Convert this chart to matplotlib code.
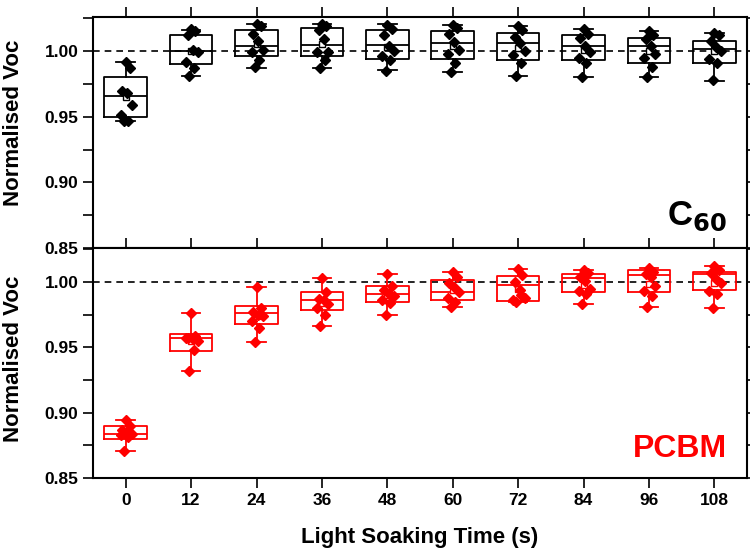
import numpy as np
import matplotlib.pyplot as plt
from matplotlib.ticker import MultipleLocator

plt.rcParams['font.family'] = ['Liberation Sans', 'DejaVu Sans']
plt.rcParams['font.weight'] = 'bold'

times = [0, 12, 24, 36, 48, 60, 72, 84, 96, 108]

# C60 - box stats (q1, median, q3, whisker low, whisker high)
c60_q1 = [0.950, 0.990, 0.996, 0.996, 0.994, 0.994, 0.993, 0.993, 0.991, 0.991]
c60_med = [0.966, 1.000, 1.004, 1.005, 1.005, 1.006, 1.006, 1.004, 1.004, 1.002]
c60_q3 = [0.980, 1.012, 1.016, 1.018, 1.016, 1.015, 1.0135, 1.012, 1.010, 1.008]
c60_lo = [0.947, 0.981, 0.987, 0.987, 0.9855, 0.984, 0.981, 0.980, 0.980, 0.977]
c60_hi = [0.992, 1.016, 1.021, 1.021, 1.021, 1.020, 1.019, 1.017, 1.015, 1.014]
c60_pts = [
    [0.992, 0.987, 0.970, 0.968, 0.959, 0.951, 0.947, 0.947],
    [1.017, 1.015, 1.012, 1.001, 0.999, 0.992, 0.987, 0.981],
    [1.021, 1.019, 1.013, 1.008, 1.001, 0.999, 0.993, 0.988],
    [1.021, 1.019, 1.016, 1.009, 0.999, 0.999, 0.993, 0.987],
    [1.020, 1.017, 1.012, 1.004, 1.000, 0.996, 0.993, 0.985],
    [1.020, 1.018, 1.013, 1.007, 1.001, 0.998, 0.991, 0.984],
    [1.019, 1.016, 1.011, 1.006, 1.000, 0.997, 0.991, 0.981],
    [1.017, 1.013, 1.010, 1.004, 0.999, 0.995, 0.991, 0.980],
    [1.015, 1.012, 1.009, 1.004, 0.998, 0.995, 0.988, 0.980],
    [1.014, 1.012, 1.008, 1.003, 1.000, 0.994, 0.991, 0.978],
]

# PCBM
pcbm_q1 = [0.880, 0.9475, 0.968, 0.9785, 0.985, 0.986, 0.9855, 0.992, 0.992, 0.994]
pcbm_med = [0.884, 0.957, 0.976, 0.986, 0.991, 0.992, 0.998, 1.003, 1.005, 1.006]
pcbm_q3 = [0.890, 0.960, 0.982, 0.992, 0.997, 1.0015, 1.0046, 1.006, 1.009, 1.0076]
pcbm_lo = [0.871, 0.932, 0.954, 0.966, 0.975, 0.981, 0.985, 0.983, 0.981, 0.980]
pcbm_hi = [0.894, 0.976, 0.996, 1.003, 1.006, 1.008, 1.010, 1.009, 1.011, 1.012]
pcbm_pts = [
    [0.894, 0.890, 0.887, 0.885, 0.884, 0.883, 0.881, 0.871],
    [0.976, 0.959, 0.957, 0.956, 0.955, 0.957, 0.948, 0.932],
    [0.996, 0.980, 0.977, 0.975, 0.974, 0.970, 0.965, 0.954],
    [1.003, 0.992, 0.987, 0.986, 0.983, 0.980, 0.975, 0.966],
    [1.006, 0.997, 0.994, 0.991, 0.989, 0.986, 0.984, 0.975],
    [1.008, 1.004, 0.999, 0.996, 0.992, 0.988, 0.985, 0.981],
    [1.010, 1.005, 1.000, 0.994, 0.988, 0.986, 0.990, 0.985],
    [1.009, 1.007, 1.004, 1.001, 0.995, 0.993, 0.991, 0.983],
    [1.011, 1.008, 1.006, 1.004, 0.997, 0.993, 0.989, 0.981],
    [1.012, 1.009, 1.007, 1.002, 0.999, 0.993, 0.991, 0.980],
]

jitter = [0.0, 0.8, -0.6, 0.3, 1.2, -0.9, 0.5, -0.3]


def draw_panel(ax, q1, med, q3, lo, hi, pts, color):
    stats = []
    for i in range(len(times)):
        stats.append(dict(q1=q1[i], med=med[i], q3=q3[i], whislo=lo[i],
                          whishi=hi[i], mean=np.mean(pts[i]), fliers=[]))
    lp = dict(color=color, linewidth=1.3)
    ax.bxp(stats, positions=times, widths=7.8, capwidths=3.4,
           showmeans=True, boxprops=lp, whiskerprops=lp, capprops=lp,
           medianprops=lp,
           meanprops=dict(marker='s', markerfacecolor='white',
                          markeredgecolor=color, markersize=4.5,
                          markeredgewidth=1.0),
           manage_ticks=False)
    for i, t in enumerate(times):
        xs = [t + j for j in jitter[:len(pts[i])]]
        ax.plot(xs, pts[i], 'D', color=color, markersize=5.5, zorder=3)
    ax.axhline(1.0, color='black', linestyle='--', linewidth=1.2,
               dashes=(4, 3), zorder=1)
    ax.set_xlim(-6, 114)
    ax.set_ylim(0.85, 1.026)
    ax.yaxis.set_major_locator(MultipleLocator(0.05))
    ax.yaxis.set_minor_locator(MultipleLocator(0.025))
    ax.set_xticks(times)
    ax.tick_params(which='both', direction='out', length=7, width=1.2,
                   right=True, top=True, labelsize=12.5)
    for s in ax.spines.values():
        s.set_linewidth(1.5)
    ax.set_ylabel('Normalised Voc', fontsize=16, fontweight='bold')


fig = plt.figure(figsize=(7.5, 5.5), dpi=100)
ax1 = fig.add_axes([0.124, 0.549, 0.872, 0.42])
ax2 = fig.add_axes([0.124, 0.131, 0.872, 0.418])

draw_panel(ax1, c60_q1, c60_med, c60_q3, c60_lo, c60_hi, c60_pts, 'black')
draw_panel(ax2, pcbm_q1, pcbm_med, pcbm_q3, pcbm_lo, pcbm_hi, pcbm_pts, 'red')

ax1.tick_params(axis='x', bottom=False, labelbottom=False)
ax1.set_yticks([0.85, 0.90, 0.95, 1.00])
ax1.set_yticklabels(['0.85', '0.90', '0.95', '1.00'])
ax2.set_yticks([0.85, 0.90, 0.95, 1.00])
ax2.set_yticklabels(['0.85', '0.90', '0.95', '1.00'])

ax1.yaxis.set_label_coords(-0.105, 0.54)
ax2.yaxis.set_label_coords(-0.105, 0.52)

ax2.set_xlabel('Light Soaking Time (s)', fontsize=16, fontweight='bold',
               labelpad=14)

ax1.text(0.97, 0.1, r'C$_{\mathbf{60}}$', transform=ax1.transAxes,
         ha='right', va='baseline', fontsize=25, fontweight='bold')
ax2.text(0.97, 0.09, 'PCBM', transform=ax2.transAxes, ha='right',
         va='baseline', fontsize=23, fontweight='bold', color='red')

fig.savefig('out.png', dpi=100)
